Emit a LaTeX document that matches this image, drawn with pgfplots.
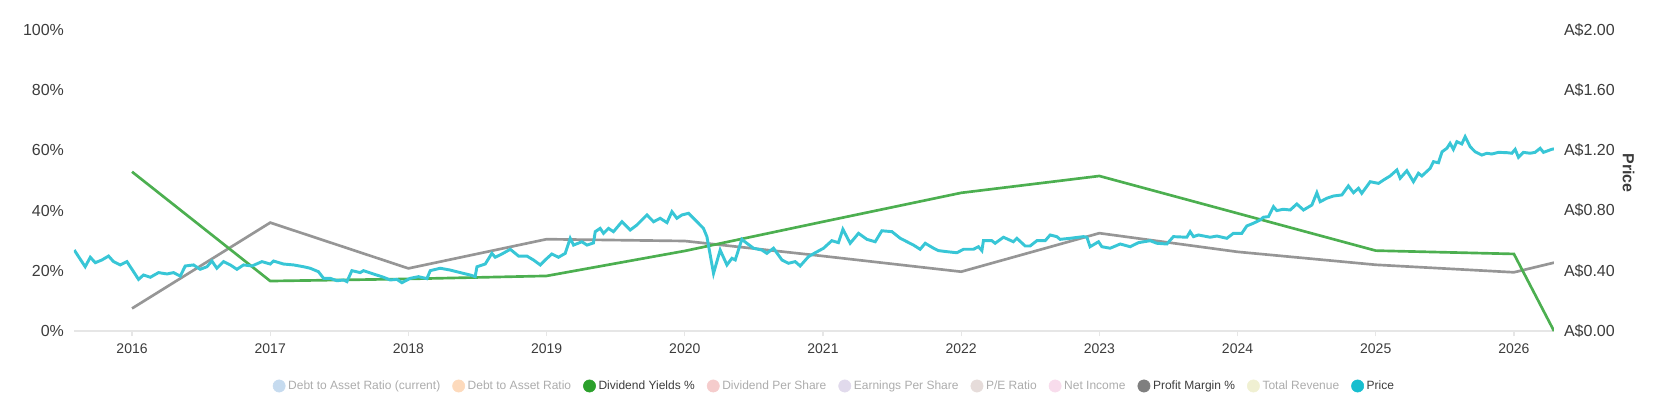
\documentclass[border=0pt]{standalone}
\usepackage{fontspec}
\setmainfont{Liberation Sans}
\usepackage{pgfplots}
\pgfplotsset{compat=1.18}

\definecolor{divgreen}{RGB}{76,175,80}
\definecolor{margray}{RGB}{150,150,150}
\definecolor{pricecyan}{RGB}{56,198,214}
\definecolor{axisgray}{RGB}{230,230,230}
\definecolor{labeldark}{RGB}{60,60,60}
\definecolor{fadegray}{RGB}{172,172,172}
\definecolor{lgA}{RGB}{198,219,239}
\definecolor{lgB}{RGB}{253,218,188}
\definecolor{lgC}{RGB}{44,160,44}
\definecolor{lgD}{RGB}{245,204,204}
\definecolor{lgE}{RGB}{225,218,236}
\definecolor{lgF}{RGB}{230,220,218}
\definecolor{lgG}{RGB}{248,220,236}
\definecolor{lgH}{RGB}{127,127,127}
\definecolor{lgI}{RGB}{240,240,210}
\definecolor{lgJ}{RGB}{23,190,207}

\pgfplotsset{
  base/.style={
    scale only axis,
    width=1110pt, height=225.75pt,
    xmin=2015.58, xmax=2026.29,
    ymin=0,
    /pgf/number format/assume math mode=true,
    tick label style={font=\fontsize{12}{14}\selectfont, text=labeldark},
    tick align=outside,
    major tick length=4pt,
    ytick style={draw=none},
    y axis line style={draw=none},
  },
}

\begin{document}
\begin{tikzpicture}
% left axis: dividend yield and profit margin
\begin{axis}[
  base,
  ymax=100,
  axis x line*=bottom,
  axis y line*=left,
  x axis line style={draw=axisgray, line width=1pt, -},
  xtick={2016,2017,2018,2019,2020,2021,2022,2023,2024,2025,2026},
  xticklabel style={font=\fontsize{10.5}{12}\selectfont,
    /pgf/number format/1000 sep={}, yshift=-2pt},
  xtick style={draw=axisgray, line width=1pt},
  ytick={0,20,40,60,80,100},
  yticklabel={\pgfmathprintnumber{\tick}\%},
]
% Profit Margin %
\addplot [margray, line width=2pt] coordinates {
  (2016, 7.5) (2017, 36.0) (2018, 20.8) (2019, 30.5) (2020, 29.9)
  (2021, 24.9) (2022, 19.7) (2023, 32.5) (2024, 26.3) (2025, 22.0)
  (2026, 19.5) (2026.29, 22.7)
};
% Dividend Yields %
\addplot [divgreen, line width=2pt] coordinates {
  (2016, 52.9) (2017, 16.6) (2018, 17.3) (2019, 18.3) (2020, 26.6)
  (2021, 36.3) (2022, 45.9) (2023, 51.5) (2024, 39.1) (2025, 26.7)
  (2026, 25.6) (2026.29, 0)
};
\end{axis}

% right axis: price
\begin{axis}[
  base,
  ymax=2,
  axis x line=none,
  axis y line*=right,
  ytick={0,0.4,0.8,1.2,1.6,2},
  yticklabel={A\$\pgfmathprintnumber[fixed,fixed zerofill,precision=2]{\tick}},
  ylabel={Price},
  every axis y label/.style={at={(axis description cs:1,0.525)},
    xshift=56pt, rotate=-90, anchor=center,
    font=\bfseries\fontsize{12}{14}\selectfont, text=labeldark},
  legend columns=10,
  legend style={at={(0.514,-0.1827)}, anchor=center, draw=none, fill=none,
    font=\fontsize{9}{11}\selectfont, text=labeldark,
    /tikz/every even column/.append style={column sep=7pt}},
  legend image code/.code={\fill[#1] (0pt,0pt) circle (4.6pt);},
]
\addplot [pricecyan, line width=2.2pt, forget plot] coordinates {
  (2015.582,0.538) (2015.613,0.494) (2015.661,0.427) (2015.698,0.490)
  (2015.734,0.454) (2015.782,0.472) (2015.830,0.498) (2015.866,0.461)
  (2015.915,0.439) (2015.963,0.461) (2016.011,0.394) (2016.047,0.343)
  (2016.083,0.372) (2016.132,0.357) (2016.192,0.388) (2016.253,0.379)
  (2016.300,0.388) (2016.349,0.365) (2016.385,0.432) (2016.445,0.439)
  (2016.493,0.410) (2016.542,0.427) (2016.578,0.465) (2016.614,0.417)
  (2016.662,0.461) (2016.711,0.439) (2016.759,0.410) (2016.807,0.439)
  (2016.868,0.432) (2016.940,0.461) (2017.000,0.445) (2017.024,0.465)
  (2017.096,0.445) (2017.169,0.439) (2017.241,0.427) (2017.289,0.417)
  (2017.349,0.394) (2017.386,0.350) (2017.434,0.350) (2017.483,0.334)
  (2017.530,0.339) (2017.555,0.328) (2017.591,0.401) (2017.651,0.388)
  (2017.675,0.401) (2017.747,0.379) (2017.820,0.357) (2017.868,0.339)
  (2017.917,0.343) (2017.953,0.321) (2018.013,0.350) (2018.073,0.361)
  (2018.134,0.348) (2018.158,0.401) (2018.230,0.417) (2018.302,0.405)
  (2018.375,0.388) (2018.447,0.372) (2018.483,0.361) (2018.496,0.427)
  (2018.556,0.445) (2018.604,0.516) (2018.628,0.490) (2018.677,0.512)
  (2018.737,0.543) (2018.797,0.498) (2018.857,0.498) (2018.905,0.472)
  (2018.954,0.439) (2018.990,0.472) (2019.038,0.512) (2019.086,0.490)
  (2019.135,0.516) (2019.171,0.616) (2019.195,0.571) (2019.255,0.593)
  (2019.292,0.571) (2019.339,0.585) (2019.352,0.660) (2019.388,0.682)
  (2019.412,0.649) (2019.448,0.682) (2019.484,0.660) (2019.545,0.726)
  (2019.605,0.671) (2019.653,0.704) (2019.726,0.771) (2019.774,0.726)
  (2019.822,0.749) (2019.871,0.720) (2019.907,0.793) (2019.943,0.749)
  (2019.979,0.771) (2020.027,0.782) (2020.088,0.726) (2020.135,0.682)
  (2020.160,0.627) (2020.208,0.383) (2020.256,0.538) (2020.305,0.439)
  (2020.341,0.483) (2020.365,0.472) (2020.413,0.609) (2020.449,0.583)
  (2020.497,0.550) (2020.558,0.538) (2020.594,0.516) (2020.642,0.550)
  (2020.703,0.472) (2020.750,0.450) (2020.799,0.461) (2020.835,0.432)
  (2020.895,0.494) (2020.944,0.520) (2021.004,0.550) (2021.064,0.600)
  (2021.112,0.587) (2021.144,0.676) (2021.197,0.583) (2021.257,0.649)
  (2021.318,0.609) (2021.378,0.593) (2021.426,0.666) (2021.499,0.660)
  (2021.559,0.616) (2021.655,0.571) (2021.703,0.543) (2021.740,0.583)
  (2021.800,0.550) (2021.836,0.534) (2021.897,0.527) (2021.969,0.520)
  (2022.017,0.543) (2022.089,0.543) (2022.125,0.560) (2022.150,0.534)
  (2022.161,0.600) (2022.222,0.600) (2022.246,0.583) (2022.306,0.623)
  (2022.378,0.593) (2022.403,0.616) (2022.463,0.565) (2022.499,0.565)
  (2022.548,0.600) (2022.608,0.600) (2022.644,0.638) (2022.692,0.627)
  (2022.716,0.609) (2022.789,0.616) (2022.885,0.627) (2022.910,0.623)
  (2022.933,0.560) (2022.994,0.593) (2023.018,0.560) (2023.078,0.550)
  (2023.151,0.578) (2023.223,0.560) (2023.283,0.587) (2023.368,0.600)
  (2023.416,0.583) (2023.488,0.578) (2023.536,0.627) (2023.633,0.623)
  (2023.657,0.660) (2023.681,0.627) (2023.717,0.638) (2023.802,0.623)
  (2023.850,0.631) (2023.923,0.616) (2023.970,0.649) (2024.031,0.649)
  (2024.067,0.698) (2024.115,0.716) (2024.164,0.738) (2024.187,0.756)
  (2024.224,0.760) (2024.260,0.826) (2024.284,0.800) (2024.332,0.809)
  (2024.381,0.804) (2024.429,0.844) (2024.477,0.804) (2024.538,0.837)
  (2024.574,0.919) (2024.598,0.859) (2024.646,0.882) (2024.694,0.897)
  (2024.755,0.904) (2024.802,0.964) (2024.839,0.919) (2024.875,0.948)
  (2024.899,0.915) (2024.960,0.992) (2025.020,0.981) (2025.056,1.003)
  (2025.104,1.030) (2025.153,1.070) (2025.177,1.015) (2025.225,1.065)
  (2025.273,0.992) (2025.309,1.048) (2025.334,1.030) (2025.394,1.081)
  (2025.418,1.125) (2025.454,1.118) (2025.480,1.191) (2025.515,1.214)
  (2025.538,1.247) (2025.562,1.207) (2025.587,1.258) (2025.623,1.243)
  (2025.647,1.291) (2025.683,1.225) (2025.719,1.191) (2025.768,1.169)
  (2025.804,1.181) (2025.840,1.176) (2025.888,1.187) (2025.949,1.185)
  (2025.985,1.181) (2026.009,1.207) (2026.033,1.154) (2026.069,1.187)
  (2026.117,1.181) (2026.153,1.187) (2026.190,1.214) (2026.214,1.187)
  (2026.273,1.207) (2026.290,1.210)
};
% legend
\addlegendimage{lgA}\addlegendentry[text=fadegray]{Debt to Asset Ratio (current)}
\addlegendimage{lgB}\addlegendentry[text=fadegray]{Debt to Asset Ratio}
\addlegendimage{lgC}\addlegendentry{Dividend Yields \%}
\addlegendimage{lgD}\addlegendentry[text=fadegray]{Dividend Per Share}
\addlegendimage{lgE}\addlegendentry[text=fadegray]{Earnings Per Share}
\addlegendimage{lgF}\addlegendentry[text=fadegray]{P/E Ratio}
\addlegendimage{lgG}\addlegendentry[text=fadegray]{Net Income}
\addlegendimage{lgH}\addlegendentry{Profit Margin \%}
\addlegendimage{lgI}\addlegendentry[text=fadegray]{Total Revenue}
\addlegendimage{lgJ}\addlegendentry{Price}
\end{axis}
\pgfresetboundingbox
\path[use as bounding box] (-55.5pt,-51.75pt) rectangle (1194.75pt,248.25pt);
\end{tikzpicture}
\end{document}
